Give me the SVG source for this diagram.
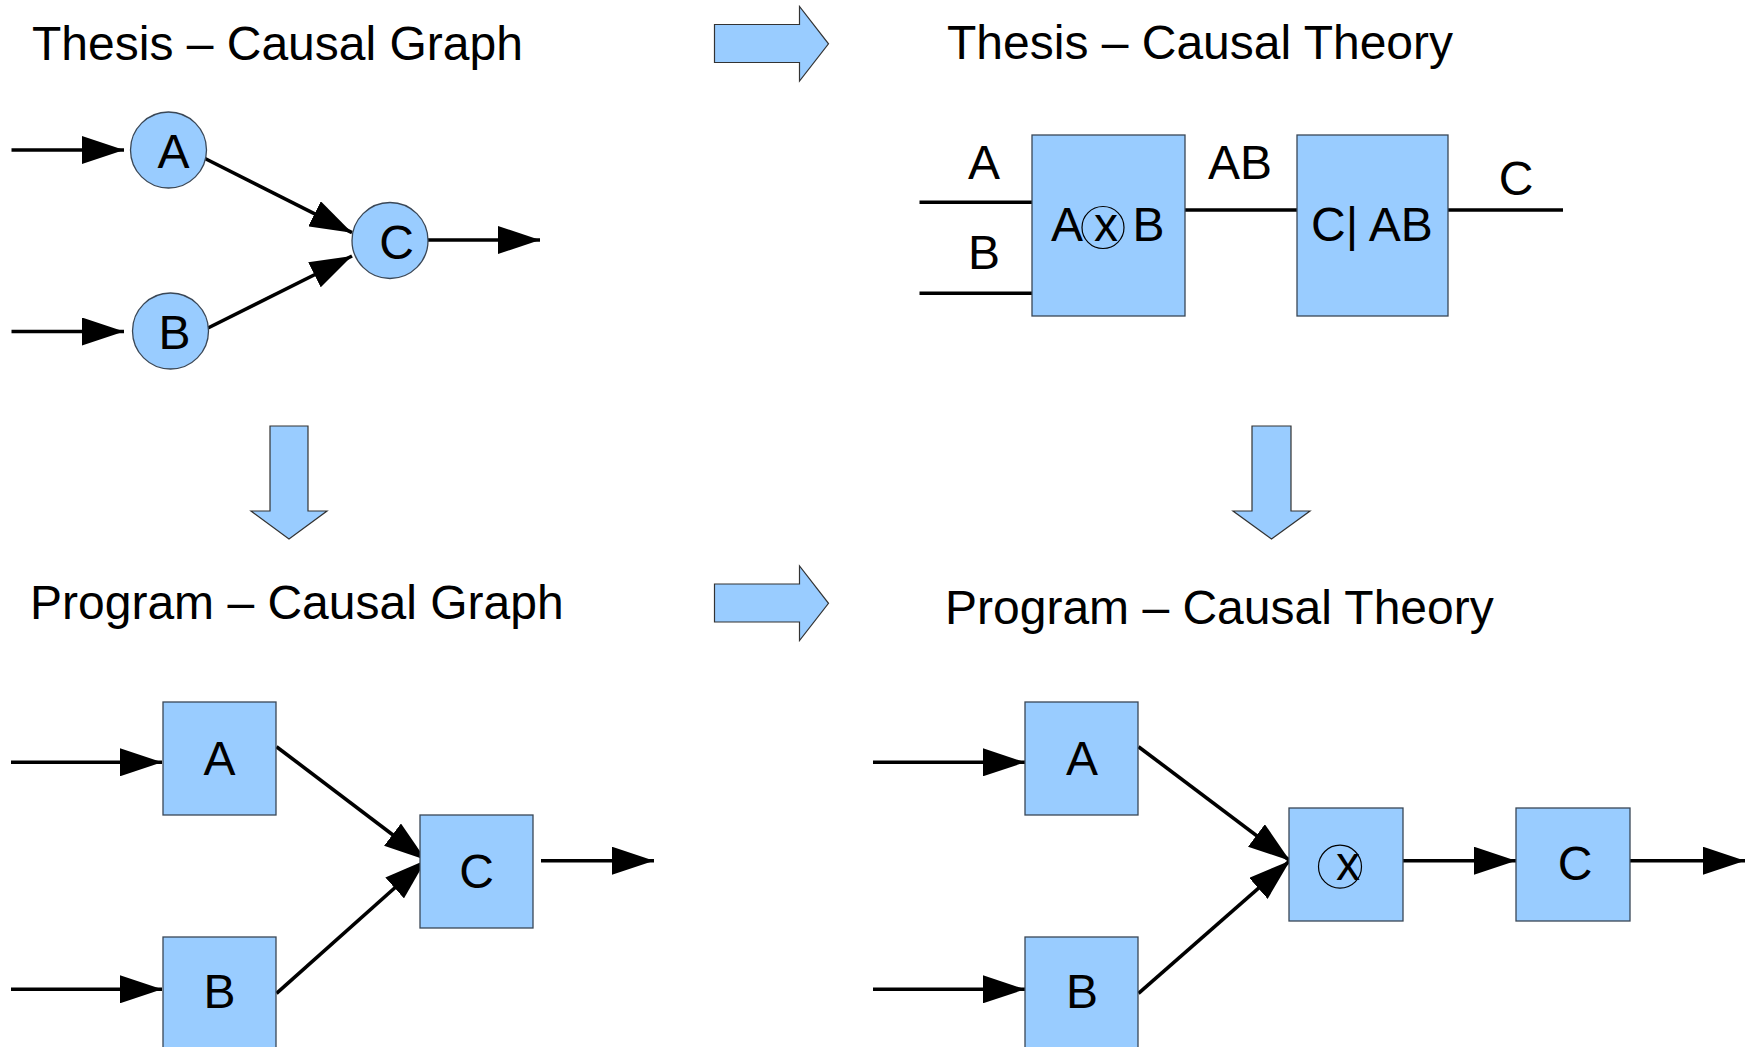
<svg xmlns="http://www.w3.org/2000/svg" width="1762" height="1047" viewBox="0 0 1762 1047">
  <style>
    text { font-family: "Liberation Sans", Arial, sans-serif; font-size: 48px; fill: #000; }
    .mid { text-anchor: middle; }
    .node { fill: #99ccff; stroke: #3a4756; stroke-width: 1.3; }
    .block { fill: #99ccff; stroke: #333; stroke-width: 1.2; }
    .edge { stroke: #000; stroke-width: 3.6; fill: none; }
    .edge-arrow { stroke: #000; stroke-width: 3.6; fill: none; marker-end: url(#head); }
    .ring { fill: none; stroke: #000; stroke-width: 1.2; }
  </style>
  <defs>
    <marker id="head" markerUnits="userSpaceOnUse" markerWidth="43" markerHeight="28" refX="42" refY="14" orient="auto" viewBox="0 0 43 28">
      <path d="M0,0 L42,14 L0,28 z" fill="#000"/>
    </marker>
  </defs>
  <rect width="1762" height="1047" fill="#fff"/>

  <!-- section titles -->
  <g id="titles">
    <text x="32" y="59.5">Thesis – Causal Graph</text>
    <text x="947" y="59">Thesis – Causal Theory</text>
    <text x="30" y="618.5">Program – Causal Graph</text>
    <text x="945" y="624">Program – Causal Theory</text>
  </g>

  <!-- block arrows between the four panels -->
  <g id="transition-arrows">
    <polygon class="block" points="714.5,24.5 799.5,24.5 799.5,6.5 828.5,43.8 799.5,81 799.5,62.5 714.5,62.5"/>
    <polygon class="block" points="714.5,584 799.5,584 799.5,566 828.5,603.3 799.5,640.5 799.5,622 714.5,622"/>
    <polygon class="block" points="270,426 308,426 308,511 327,511 289,539 251,511 270,511"/>
    <polygon class="block" points="1252,426 1291,426 1291,511 1310,511 1271.5,539 1233,511 1252,511"/>
  </g>

  <!-- connectors -->
  <g id="connectors">
    <!-- thesis causal graph -->
    <line class="edge-arrow" x1="11.5" y1="150" x2="124" y2="150"/>
    <line class="edge-arrow" x1="11.5" y1="331.5" x2="124" y2="331.5"/>
    <line class="edge-arrow" x1="204" y1="158" x2="352" y2="232.7"/>
    <line class="edge-arrow" x1="202" y1="331" x2="352" y2="256"/>
    <line class="edge-arrow" x1="428" y1="240" x2="540" y2="240"/>
    <!-- thesis causal theory wires -->
    <line class="edge" x1="919.5" y1="202.3" x2="1032" y2="202.3"/>
    <line class="edge" x1="919.5" y1="293.3" x2="1032" y2="293.3"/>
    <line class="edge" x1="1185" y1="210" x2="1297" y2="210"/>
    <line class="edge" x1="1448" y1="210" x2="1563" y2="210"/>
    <!-- program causal graph -->
    <line class="edge-arrow" x1="11" y1="762.3" x2="162" y2="762.3"/>
    <line class="edge-arrow" x1="11" y1="989.3" x2="162" y2="989.3"/>
    <line class="edge-arrow" x1="276.5" y1="746.7" x2="426" y2="860"/>
    <line class="edge-arrow" x1="276.5" y1="993.3" x2="426" y2="860"/>
    <line class="edge-arrow" x1="541" y1="860.7" x2="654" y2="860.7"/>
    <!-- program causal theory -->
    <line class="edge-arrow" x1="873" y1="762.3" x2="1025" y2="762.3"/>
    <line class="edge-arrow" x1="873" y1="989.3" x2="1025" y2="989.3"/>
    <line class="edge-arrow" x1="1138.5" y1="746.7" x2="1290" y2="860.7"/>
    <line class="edge-arrow" x1="1138.5" y1="993.3" x2="1290" y2="860.7"/>
    <line class="edge-arrow" x1="1403" y1="860.7" x2="1516" y2="860.7"/>
    <line class="edge-arrow" x1="1630" y1="860.7" x2="1745" y2="860.7"/>
  </g>

  <!-- thesis causal graph nodes -->
  <g id="tg-a">
    <circle class="node" cx="168.5" cy="150" r="38"/>
    <text class="mid" x="173.5" y="168.3">A</text>
  </g>
  <g id="tg-b">
    <circle class="node" cx="170.5" cy="331" r="38"/>
    <text class="mid" x="174.5" y="348.5">B</text>
  </g>
  <g id="tg-c">
    <circle class="node" cx="390" cy="240.5" r="38"/>
    <text class="mid" x="396.5" y="258.5">C</text>
  </g>

  <!-- thesis causal theory nodes -->
  <g id="tt-labels">
    <text class="mid" x="984" y="179">A</text>
    <text class="mid" x="984" y="269">B</text>
    <text class="mid" x="1240" y="179">AB</text>
    <text class="mid" x="1516" y="195">C</text>
  </g>
  <g id="tt-product">
    <rect class="node" x="1032" y="135" width="153" height="181"/>
    <text x="1051" y="241">A</text>
    <circle class="ring" cx="1103" cy="227.5" r="21"/>
    <text class="mid" x="1106" y="241">x</text>
    <text x="1132.5" y="241">B</text>
  </g>
  <g id="tt-conditional">
    <rect class="node" x="1297" y="135" width="151" height="181"/>
    <text x="1311" y="241">C| AB</text>
  </g>

  <!-- program causal graph nodes -->
  <g id="pg-a">
    <rect class="node" x="163" y="702" width="113" height="113"/>
    <text class="mid" x="219.5" y="775">A</text>
  </g>
  <g id="pg-b">
    <rect class="node" x="163" y="937" width="113" height="113"/>
    <text class="mid" x="219.5" y="1008">B</text>
  </g>
  <g id="pg-c">
    <rect class="node" x="420" y="815" width="113" height="113"/>
    <text class="mid" x="476.5" y="888">C</text>
  </g>

  <!-- program causal theory nodes -->
  <g id="pt-a">
    <rect class="node" x="1025" y="702" width="113" height="113"/>
    <text class="mid" x="1082" y="775">A</text>
  </g>
  <g id="pt-b">
    <rect class="node" x="1025" y="937" width="113" height="113"/>
    <text class="mid" x="1082" y="1008">B</text>
  </g>
  <g id="pt-product">
    <rect class="node" x="1289" y="808" width="114" height="113"/>
    <circle class="ring" cx="1340" cy="866.7" r="21.5"/>
    <text class="mid" x="1348" y="880">x</text>
  </g>
  <g id="pt-c">
    <rect class="node" x="1516" y="808" width="114" height="113"/>
    <text class="mid" x="1575" y="880">C</text>
  </g>
</svg>
